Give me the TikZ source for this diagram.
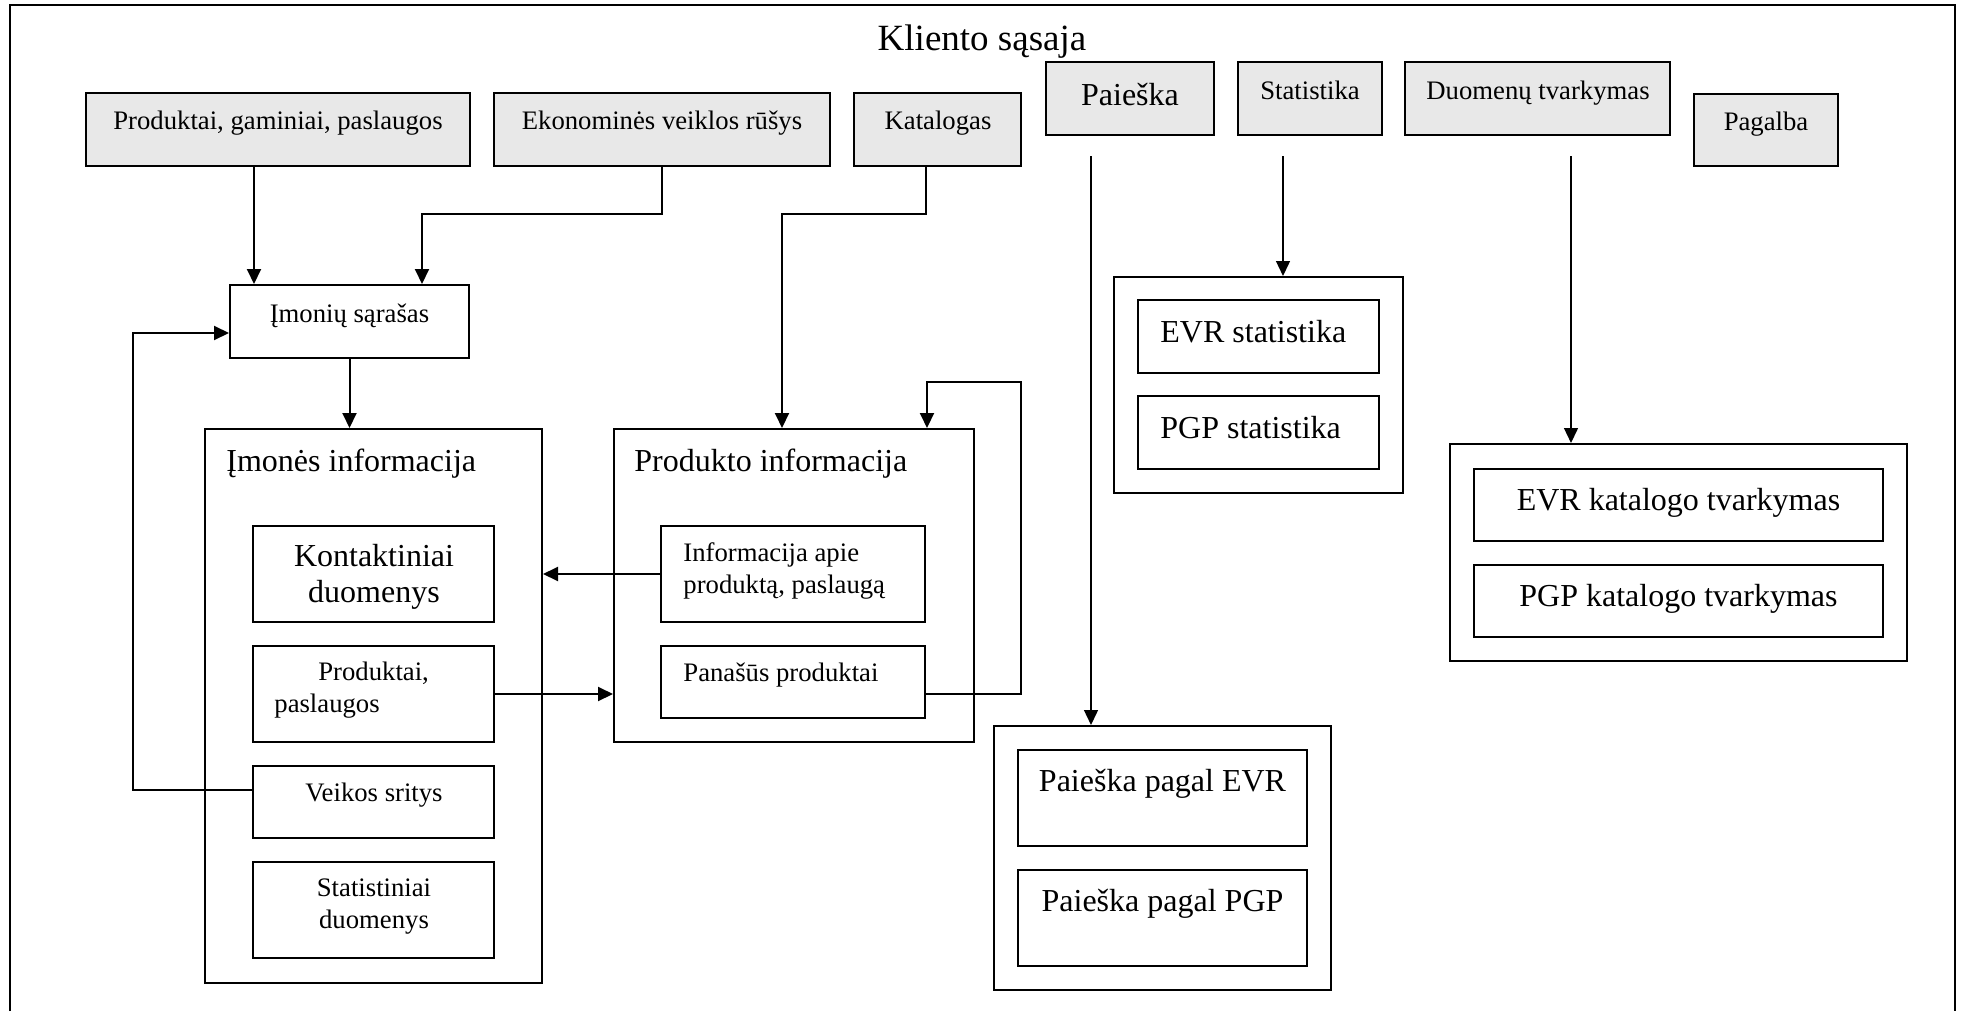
\documentclass[tikz,border=0pt]{standalone}
\usepackage{fontspec}
\setmainfont{Liberation Serif}
\usetikzlibrary{arrows.meta,fit}

\begin{document}
\begin{tikzpicture}[
  x=0.5pt, y=-0.5pt,
  frame/.style={line width=1.1pt},
  box/.style={draw, line width=1pt, inner sep=0pt},
  menubox/.style={box, fill=gray!18},
  conn/.style={line width=1pt, -{Triangle[length=7.5pt,width=7pt]}},
  thinconn/.style={conn, line width=0.7pt},
  sm/.style={inner sep=0pt, font=\fontsize{13.35}{15.6}\selectfont},
  lg/.style={inner sep=0pt, font=\fontsize{16}{18}\selectfont},
  ttl/.style={inner sep=0pt, font=\fontsize{18.5}{22}\selectfont}
]
\useasboundingbox (0,0) rectangle (1963,1011);

% open outer frame
\draw[frame] (10,1011) -- (10,5) -- (1955,5) -- (1955,1011);
\node[ttl, anchor=base] (title) at (982,51) {Kliento sąsaja};

% menu bar
\node[menubox, fit={(86,93)(470,166)}] (bProd) {};
\node[menubox, fit={(494,93)(830,166)}] (bEkon) {};
\node[menubox, fit={(854,93)(1021,166)}] (bKat) {};
\node[menubox, fit={(1046,62)(1214,135)}] (bPai) {};
\node[menubox, fit={(1238,62)(1382,135)}] (bStat) {};
\node[menubox, fit={(1405,62)(1670,135)}] (bDuom) {};
\node[menubox, fit={(1694,94)(1838,166)}] (bPag) {};

\node[sm, anchor=base] (tProd) at (278,129.5) {Produktai, gaminiai, paslaugos};
\node[sm, anchor=base] (tEkon) at (662,129.5) {Ekonominės veiklos rūšys};
\node[sm, anchor=base] (tKat) at (938,129.5) {Katalogas};
\node[lg, anchor=base] (tPai) at (1130,105) {Paieška};
\node[sm, anchor=base] (tStat) at (1310,99) {Statistika};
\node[sm, anchor=base] (tDuom) at (1538,99) {Duomenų tvarkymas};
\node[sm, anchor=base] (tPag) at (1766,130) {Pagalba};

% company list
\node[box, fit={(230,285)(469,358)}] (bSar) {};
\node[sm, anchor=base] (tSar) at (349.5,322) {Įmonių sąrašas};

% company information
\node[box, fit={(205,429)(542,983)}] (bImInfo) {};
\node[lg, anchor=base west] (tImInfo) at (226,471) {Įmonės informacija};
\node[box, fit={(253,526)(494,622)}] (bKont) {};
\node[box, fit={(253,646)(494,742)}] (bProdPasl) {};
\node[box, fit={(253,766)(494,838)}] (bVeik) {};
\node[box, fit={(253,862)(494,958)}] (bStatD) {};
% multi-line labels are anchored at the baseline of their last line
\node[lg, anchor=base, align=center] (tKont) at (374,602) {Kontaktiniai\\duomenys};
\node[sm, anchor=base west, align=left] (tProdPasl) at (274,712) {\hspace*{22pt}Produktai,\\paslaugos};
\node[sm, anchor=base] (tVeik) at (374,801) {Veikos sritys};
\node[sm, anchor=base, align=center] (tStatD) at (374,928) {Statistiniai\\duomenys};

% product information
\node[box, fit={(614,429)(974,742)}] (bProdInfo) {};
\node[lg, anchor=base west] (tProdInfo) at (634,471) {Produkto informacija};
\node[box, fit={(661,526)(925,622)}] (bInfApie) {};
\node[box, fit={(661,646)(925,718)}] (bPanas) {};
\node[sm, anchor=base west, align=left] (tInfApie) at (683,593) {Informacija apie\\produktą, paslaugą};
\node[sm, anchor=base west] (tPanas) at (683,681) {Panašūs produktai};

% statistics
\node[box, fit={(1114,277)(1403,493)}] (bStatOut) {};
\node[box, fit={(1138,300)(1379,373)}] (bEVRs) {};
\node[box, fit={(1138,396)(1379,469)}] (bPGPs) {};
\node[lg, anchor=base west] (tEVRs) at (1160,342) {EVR statistika};
\node[lg, anchor=base west] (tPGPs) at (1160,438) {PGP statistika};

% data management
\node[box, fit={(1450,444)(1907,661)}] (bDuomOut) {};
\node[box, fit={(1474,469)(1883,541)}] (bEVRk) {};
\node[box, fit={(1474,565)(1883,637)}] (bPGPk) {};
\node[lg, anchor=base] (tEVRk) at (1678.5,510) {EVR katalogo tvarkymas};
\node[lg, anchor=base] (tPGPk) at (1678.5,606) {PGP katalogo tvarkymas};

% search
\node[box, fit={(994,726)(1331,990)}] (bPaiOut) {};
\node[box, fit={(1018,750)(1307,846)}] (bPaiEVR) {};
\node[box, fit={(1018,870)(1307,966)}] (bPaiPGP) {};
\node[lg, anchor=base] (tPaiEVR) at (1162.5,791) {Paieška pagal EVR};
\node[lg, anchor=base] (tPaiPGP) at (1162.5,911) {Paieška pagal PGP};

% connectors
\draw[conn] (254,0 |- bProd.south) -- (254,0 |- bSar.north);
\draw[conn] (662,0 |- bEkon.south) -- ++(0,47) -| (422,0 |- bSar.north);
\draw[conn] (926,0 |- bKat.south) -- ++(0,47) -| (782,0 |- bProdInfo.north);
\draw[conn] (bSar.south) -- (bSar.south |- bImInfo.north);

\coordinate (fbTurn) at (133,333);
\draw[conn] (bVeik.west |- 0,790) -| (fbTurn) -- (bSar.west |- fbTurn);

\draw[conn] (bInfApie.west) -- (bInfApie.west -| bImInfo.east);
\draw[conn] (bProdPasl.east) -- (bProdPasl.east -| bProdInfo.west);

\coordinate (loopA) at (1021,694);
\coordinate (loopB) at (927,382);
\draw[conn] (bPanas.east |- loopA) -- (loopA) |- (loopB) -- (loopB |- bProdInfo.north);

\coordinate (paiStart) at (1091,156);
\coordinate (statStart) at (1283,156);
\coordinate (duomStart) at (1571,156);
\draw[thinconn] (paiStart) -- (paiStart |- bPaiOut.north);
\draw[thinconn] (statStart) -- (statStart |- bStatOut.north);
\draw[thinconn] (duomStart) -- (duomStart |- bDuomOut.north);
\end{tikzpicture}
\end{document}
